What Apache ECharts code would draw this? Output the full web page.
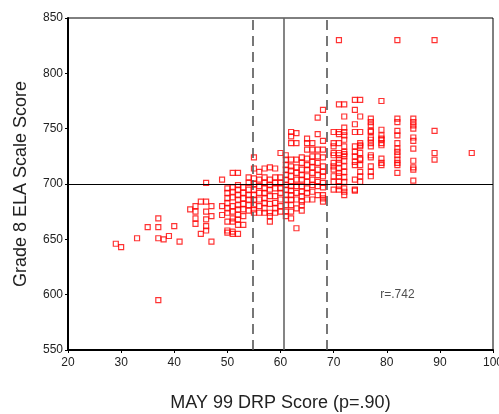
<!DOCTYPE html>
<html>
<head>
<meta charset="utf-8">
<script src="https://cdn.jsdelivr.net/npm/echarts@6/dist/echarts.min.js"></script>
<style>
html,body{margin:0;padding:0;background:#fff;}
#chart{width:499px;height:414px;}
</style>
</head>
<body>
<div id="chart"></div>
<script>
// DRP score columns and the ELA scale scores observed at each
const drpColumns = [29, 30, 33, 35, 37, 38, 39, 40, 41, 43, 44, 45, 46, 47, 49, 50, 51, 52, 53, 54, 55, 56, 57, 58, 59, 60, 61, 62, 63, 64, 65, 66, 67, 68, 70, 71, 72, 74, 75, 77, 79, 82, 85, 89, 96];
const elaByColumn = [
  [646],
  [643],
  [651],
  [661],
  [669, 661, 651, 595],
  [650],
  [653],
  [662],
  [648],
  [677],
  [680, 675, 669, 664],
  [684, 655],
  [701, 684, 675, 668, 662, 658],
  [680, 671, 648],
  [704, 680, 672],
  [696, 692, 687, 683, 678, 674, 666, 658, 656],
  [710, 697, 693, 688, 680, 675, 669, 666, 657, 655],
  [710, 699, 695, 690, 686, 681, 677, 672, 668, 663, 655],
  [697, 692, 687, 682, 677, 671, 663],
  [706, 701, 695, 690, 686, 681, 676],
  [724, 714, 705, 700, 695, 690, 686, 681, 677, 674],
  [711, 704, 698, 692, 686, 680, 674],
  [714, 706, 701, 696, 692, 687, 683, 678, 674],
  [715, 704, 699, 695, 689, 682, 674, 671, 666],
  [714, 706, 701, 696, 689, 683, 678, 674],
  [728, 706, 701, 696, 692, 686, 680, 675],
  [726, 722, 717, 713, 708, 704, 699, 695, 690, 686, 681, 675, 671],
  [747, 743, 737, 722, 716, 712, 707, 702, 698, 694, 690, 686, 681, 675, 669],
  [746, 737, 722, 715, 710, 704, 698, 692, 686, 678, 660],
  [724, 719, 713, 708, 704, 698, 693, 689, 684, 681, 676],
  [741, 737, 731, 723, 717, 713, 707, 702, 696, 692, 686],
  [737, 731, 725, 720, 715, 710, 704, 699, 693, 686],
  [760, 745, 731, 725, 719, 713, 708, 702, 698, 690],
  [767, 739, 731, 724, 716, 711, 707, 701, 697, 690, 687, 684],
  [747, 737, 734, 728, 726, 719, 716, 713, 707, 702, 695],
  [830, 772, 747, 745, 737, 728, 726, 722, 719, 714, 710, 707, 702, 698, 695],
  [772, 761, 751, 747, 744, 740, 734, 729, 727, 725, 721, 716, 711, 706, 702, 696, 693, 690],
  [776, 767, 754, 747, 734, 729, 725, 720, 717, 704, 695, 694],
  [776, 761, 747, 737, 735, 734, 728, 723, 722, 717, 711, 707, 702],
  [759, 756, 753, 748, 747, 742, 740, 737, 734, 726, 724, 716, 711, 707],
  [775, 749, 744, 741, 740, 737, 735, 723, 719, 717],
  [830, 759, 756, 748, 744, 737, 732, 729, 726, 722, 719, 717, 710],
  [759, 756, 753, 750, 742, 739, 732, 721, 715, 713, 703],
  [830, 748, 728, 722],
  [728]
];
// reference lines
const verticalDashed = [54.7, 68.7];
const verticalSolid = [60.6];
const horizontalRef = [700];
// axis ticks
const xTicks = [20, 30, 40, 50, 60, 70, 80, 90, 100];
const yTicks = [550, 600, 650, 700, 750, 800, 850];
const corrText = 'r=.742';
const corrPos = [82, 600];

const points = [];
drpColumns.forEach((x, i) => elaByColumn[i].forEach(y => points.push([x, y])));

const chart = echarts.init(document.getElementById('chart'), null, {renderer: 'canvas'});
const FONT = 'Liberation Sans, Arial, sans-serif';

const markData = [];
verticalDashed.forEach(v => markData.push({xAxis: v, lineStyle: {type: [10, 6], color: '#555', width: 1.6}}));
verticalSolid.forEach(v => markData.push({xAxis: v, lineStyle: {type: 'solid', color: '#666', width: 1.6}}));
horizontalRef.forEach(v => markData.push({yAxis: v, lineStyle: {type: 'solid', color: '#000', width: 1.2}}));

chart.setOption({
  animation: false,
  backgroundColor: '#fff',
  grid: {left: 68, right: 6, top: 18, bottom: 64, outerBoundsMode: 'none', containLabel: false, show: true, borderColor: '#000', borderWidth: 1, backgroundColor: 'transparent'},
  xAxis: {
    type: 'value', min: xTicks[0], max: xTicks[xTicks.length - 1], interval: 10,
    name: 'MAY 99 DRP Score (p=.90)', nameLocation: 'middle', nameGap: 44,
    nameTextStyle: {fontFamily: FONT, fontSize: 18, color: '#222'},
    axisLine: {show: true, onZero: false, lineStyle: {color: '#000', width: 2}},
    axisTick: {show: true, length: 3, lineStyle: {color: '#000'}},
    axisLabel: {fontFamily: FONT, fontSize: 12, color: '#222', margin: 7},
    splitLine: {show: false}
  },
  yAxis: {
    type: 'value', min: yTicks[0], max: yTicks[yTicks.length - 1], interval: 50,
    name: 'Grade 8 ELA Scale Score', nameLocation: 'middle', nameGap: 38,
    nameTextStyle: {fontFamily: FONT, fontSize: 18, color: '#222'},
    axisLine: {show: true, onZero: false, lineStyle: {color: '#000', width: 2}},
    axisTick: {show: true, length: 3, lineStyle: {color: '#000'}},
    axisLabel: {fontFamily: FONT, fontSize: 12, color: '#222', margin: 5},
    splitLine: {show: false}
  },
  series: [
    {
      type: 'scatter', data: [], z: 1, silent: true,
      markLine: {silent: true, symbol: 'none', label: {show: false}, animation: false, data: markData}
    },
    {
      type: 'scatter', data: points, z: 3, symbol: 'rect', symbolSize: 5,
      itemStyle: {color: 'rgba(0,0,0,0)', borderColor: '#ff0000', borderWidth: 1.2}
    },
    {
      type: 'scatter', data: [corrPos], z: 4, symbolSize: 0, silent: true,
      label: {show: true, position: 'inside', formatter: corrText, fontFamily: FONT, fontSize: 12, color: '#222'}
    }
  ]
});
</script>
</body>
</html>
